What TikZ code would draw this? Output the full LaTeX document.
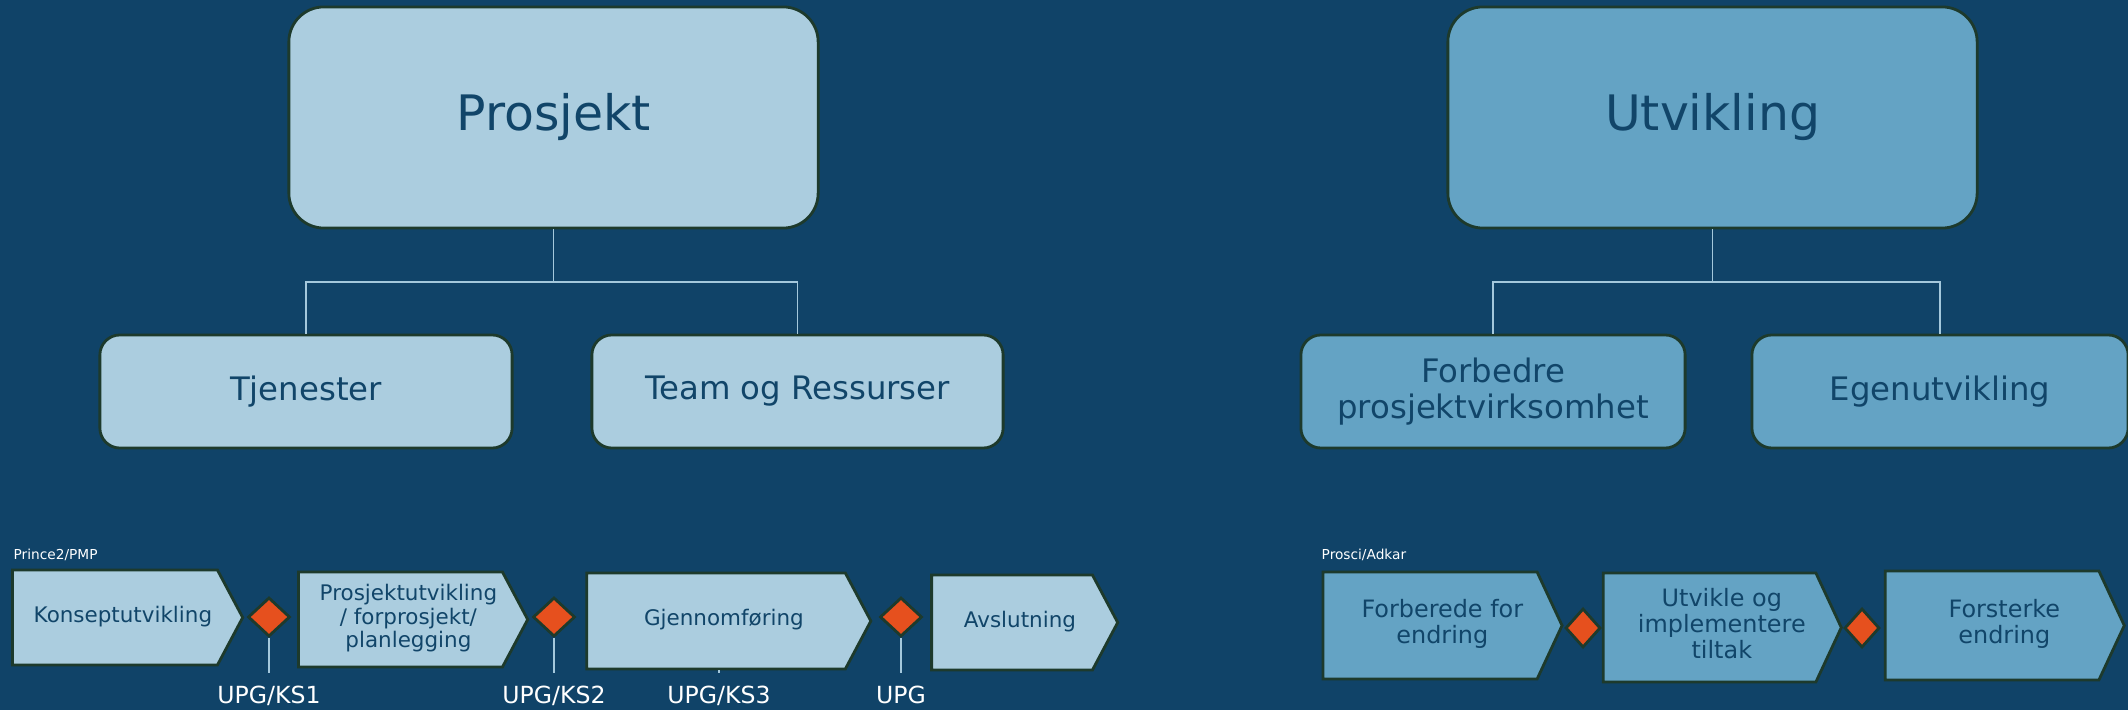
\documentclass[tikz,border=0pt]{standalone}
\usepackage{fontspec}
\setmainfont{DejaVu Sans}
\usetikzlibrary{shapes.geometric}
\usetikzlibrary{shapes.symbols}
\usepackage{xcolor}
\definecolor{bg}{HTML}{104368}
\definecolor{ink}{HTML}{114569}
\definecolor{edge}{HTML}{1D3A2C}
\definecolor{lite}{HTML}{ABCDDF}
\definecolor{mid}{HTML}{64A3C4}
\definecolor{gatefill}{HTML}{E6501E}
\definecolor{wire}{HTML}{A4C8DC}
% text of a phase, pushed a little towards the point
\newcommand{\phasetxt}[2]{\begin{tabular}{@{\hskip #1}c@{}}#2\end{tabular}}

\begin{document}
\begin{tikzpicture}[
    x=0.01cm, y=-0.01cm,
    box/.style = {rectangle, draw=edge, line width=0.8pt, fill=#1,
                text=ink, align=center, rounded corners=2mm,
                font=\fontsize{9.2}{10}\selectfont},
    box/.default = lite,
    bigbox/.style = {box=#1, rounded corners=3.5mm,
                font=\fontsize{13.9}{15}\selectfont},
    bigbox/.default = lite,
    phase/.style = {signal, signal to=east, signal pointer angle=124,
                draw=edge, line width=0.8pt, fill=#1, text=ink,
                inner sep=0pt, font=\fontsize{6.1}{6.6}\selectfont},
    phase/.default = lite,
    gate/.style = {diamond, draw=edge, line width=0.8pt, fill=gatefill,
                inner sep=0pt, minimum width=#1, minimum height=0.39cm},
    gate/.default = 0.42cm,
    tag/.style = {text=white, inner sep=0pt,
                font=\fontsize{3.9}{4.5}\selectfont},
    gatelabel/.style = {text=white, inner sep=0pt, anchor=base,
                font=\fontsize{6.7}{7}\selectfont},
    link/.style = {draw=wire, line width=0.45pt}
                    ]
    \useasboundingbox (0,0) rectangle (2128,710);
    \fill[bg] (0,0) rectangle (2128,710);

    % tree on the left
    \node[bigbox, minimum width=5.29cm, minimum height=2.21cm] at (553.5,117.5) (prosjekt) {Prosjekt};
    \node[box, minimum width=4.12cm, minimum height=1.13cm] at (306,391.5) (tjenester) {Tjenester};
    \node[box, minimum width=4.11cm, minimum height=1.13cm] at (797.5,391.5) (team) {Team og Ressurser};
    \coordinate (pj) at (553.5,282);

    % tree on the right
    \node[bigbox=mid, minimum width=5.29cm, minimum height=2.21cm] at (1712.5,117.5) (utvikling) {Utvikling};
    \node[box=mid, minimum width=3.84cm, minimum height=1.13cm] at (1493,391.5) (forbedre) {Forbedre\\prosjektvirksomhet};
    \node[box=mid, minimum width=3.76cm, minimum height=1.13cm] at (1940,391.5) (egen) {Egenutvikling};
    \coordinate (uj) at (1712.5,282);

    \draw[link] (prosjekt.south) -- (pj);
    \draw[link] (tjenester.north) |- (pj) -| (team.north);
    \draw[link] (utvikling.south) -- (uj);
    \draw[link] (forbedre.north) |- (uj) -| (egen.north);

    % Prince2/PMP phases
    \node[tag, anchor=west] at (13,555) (prince) {Prince2/PMP};
    \node[phase, minimum width=2.30cm, minimum height=0.95cm] at (115,617.5) (konsept) {\phasetxt{4.5pt}{Konseptutvikling}};
    \node[phase, minimum width=2.29cm, minimum height=0.95cm] at (400.5,619.5) (prosjutv) {\phasetxt{4.5pt}{Prosjektutvikling\\/ forprosjekt/\\planlegging}};
    \node[phase, minimum width=2.84cm, minimum height=0.96cm] at (716,621) (gjennom) {\phasetxt{4.5pt}{Gjennomføring}};
    \node[phase, minimum width=1.86cm, minimum height=0.95cm] at (1012,622.5) (avslut) {\phasetxt{4.5pt}{Avslutning}};
    \node[gate] at (269,617) (d1) {};
    \node[gate] at (554,617) (d2) {};
    \node[gate] at (901,617) (d3) {};
    \node[gatelabel] at (269,703) (k1) {UPG/KS1};
    \node[gatelabel] at (554,703) (k2) {UPG/KS2};
    \node[gatelabel] at (719,703) (k3) {UPG/KS3};
    \node[gatelabel] at (901,703) (k4) {UPG};
    \draw[link, shorten >=3.5pt] (d1.south) -- (k1.north);
    \draw[link, shorten >=3.5pt] (d2.south) -- (k2.north);
    \draw[link, shorten >=3.5pt] (k3.north |- gjennom.south) -- (k3.north);
    \draw[link, shorten >=3.5pt] (d3.south) -- (k4.north);

    % Prosci/Adkar phases
    \node[phase=mid, signal pointer angle=130, minimum width=2.39cm, minimum height=1.07cm, font=\fontsize{6.8}{7.4}\selectfont] at (1430,625.5) (forbered) {\phasetxt{7pt}{Forberede for\\endring}};
    \node[phase=mid, signal pointer angle=130, minimum width=2.38cm, minimum height=1.09cm, font=\fontsize{6.8}{7.4}\selectfont] at (1709.5,627.5) (utvikle) {\phasetxt{7pt}{Utvikle og\\implementere\\tiltak}};
    \node[phase=mid, signal pointer angle=130, minimum width=2.39cm, minimum height=1.09cm, font=\fontsize{6.8}{7.4}\selectfont] at (1992,625.5) (forsterk) {\phasetxt{7pt}{Forsterke\\endring}};
    \node[tag, anchor=west] at (1321,555) (prosci) {Prosci/Adkar};
    \node[gate=0.35cm] at (1583,628) (r1) {};
    \node[gate=0.35cm] at (1862,628) (r2) {};
\end{tikzpicture}
\end{document}
